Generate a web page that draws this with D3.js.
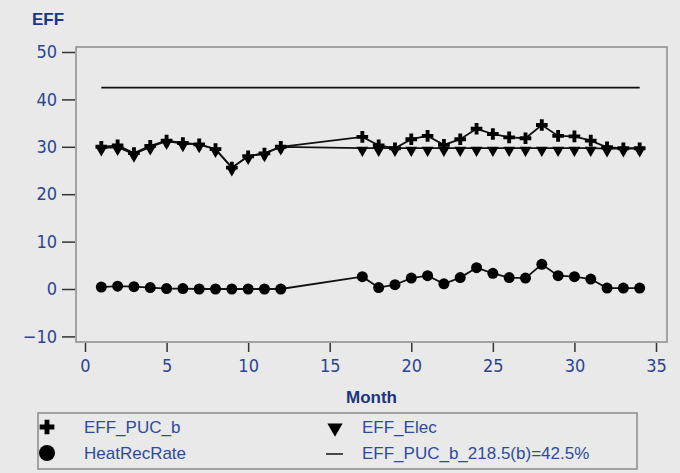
<!DOCTYPE html>
<html><head><meta charset="utf-8">
<script src="https://cdn.jsdelivr.net/npm/d3@7"></script>
<style>
html,body{margin:0;padding:0;background:#e9e9e9;}
svg{display:block;}
</style></head>
<body>
<script>
const months = [1,2,3,4,5,6,7,8,9,10,11,12,17,18,19,20,21,22,23,24,25,26,27,28,29,30,31,32,33,34];
const effPucB = [30.0,30.3,28.7,30.2,31.3,30.8,30.5,29.5,25.6,28.0,28.6,30.0,
                 32.1,30.3,29.7,31.6,32.3,30.4,31.6,33.8,32.7,32.0,31.8,34.6,32.3,32.2,31.3,29.9,29.7,29.7];
const effElec = [29.8,29.9,28.5,30.0,31.2,30.7,30.5,29.5,25.6,28.0,28.6,30.0,
                 29.7,29.7,29.7,29.7,29.7,29.7,29.7,29.7,29.7,29.7,29.7,29.7,29.7,29.7,29.7,29.6,29.6,29.6];
const heatRecRate = [0.4,0.6,0.5,0.3,0.1,0.1,0.0,0.0,0.0,0.0,0.0,0.0,
                     2.6,0.3,0.9,2.3,2.8,1.1,2.4,4.5,3.3,2.4,2.3,5.2,2.8,2.6,2.1,0.2,0.2,0.2];
const refLineValue = 42.5;
const refLineMonths = [1,34];
const xTicks = [0,5,10,15,20,25,30,35];
const yTicks = [-10,0,10,20,30,40,50];
const legendLabels = ["EFF_PUC_b","EFF_Elec","HeatRecRate","EFF_PUC_b_218.5(b)=42.5%"];

const W = 680, H = 473;
const frame = {left:76, right:667, top:47, bottom:342};
const svg = d3.select("body").append("svg").attr("width",W).attr("height",H);
svg.append("rect").attr("width",W).attr("height",H).attr("fill","#e9e9e9");

const x = d3.scaleLinear().domain([0,35]).range([85,656]);
const y = d3.scaleLinear().domain([0,50]).range([289,52]);

const navy = "#1c3580";
const tickBlue = "#2b4591";
const tickFont = "'Liberation Sans Narrow','DejaVu Sans Condensed',sans-serif";

// frame
svg.append("rect").attr("x",frame.left).attr("y",frame.top)
  .attr("width",frame.right-frame.left).attr("height",frame.bottom-frame.top)
  .attr("fill","#e9e9e9").attr("stroke","#8a8a8a").attr("stroke-width",1.5);

// y axis
const yAxis = d3.axisLeft(y).tickValues(yTicks).tickSize(13).tickPadding(5);
const gy = svg.append("g").attr("transform",`translate(${frame.left-1},0)`).call(yAxis);
gy.select(".domain").remove();
gy.selectAll(".tick line").attr("stroke","#333").attr("stroke-width",1.5);
gy.selectAll(".tick text").attr("fill",tickBlue).style("font-family",tickFont).style("font-size","18px");

// x axis
const xAxis = d3.axisBottom(x).tickValues(xTicks).tickSize(9).tickPadding(7);
const gx = svg.append("g").attr("transform",`translate(0,${frame.bottom+1})`).call(xAxis);
gx.select(".domain").remove();
gx.selectAll(".tick line").attr("stroke","#333").attr("stroke-width",1.5);
gx.selectAll(".tick text").attr("fill",tickBlue).style("font-family",tickFont).style("font-size","18px");

// titles
svg.append("text").attr("x",32).attr("y",25).text("EFF")
  .attr("fill",navy).style("font-family","Liberation Sans, Arial, sans-serif").style("font-weight","bold").style("font-size","17px");
svg.append("text").attr("x",(frame.left+frame.right)/2).attr("y",403).attr("text-anchor","middle").text("Month")
  .attr("fill",navy).style("font-family","Liberation Sans, Arial, sans-serif").style("font-weight","bold").style("font-size","17px");

// data
const line = d3.line().x(d=>x(d[0])).y(d=>y(d[1]));
const pucData = months.map((m,i)=>[m,effPucB[i]]);
const elecData = months.map((m,i)=>[m,effElec[i]]);
const heatData = months.map((m,i)=>[m,heatRecRate[i]]);

svg.append("path").datum(refLineMonths.map(m=>[m,refLineValue])).attr("d",line)
  .attr("fill","none").attr("stroke","#111").attr("stroke-width",1.8);
[pucData, elecData, heatData].forEach(dat=>{
  svg.append("path").datum(dat).attr("d",line).attr("fill","none").attr("stroke","#111").attr("stroke-width",1.8);
});

const cross = d3.symbol().type(d3.symbolCross).size(75);
const tri = d3.symbol().type(d3.symbolTriangle).size(60);
svg.append("g").selectAll("path").data(pucData).join("path")
  .attr("d",cross).attr("transform",d=>`translate(${x(d[0])},${y(d[1])})`).attr("fill","#000");
svg.append("g").selectAll("path").data(elecData).join("path")
  .attr("d",tri).attr("transform",d=>`translate(${x(d[0])},${y(d[1])+2}) rotate(180)`).attr("fill","#000");
svg.append("g").selectAll("circle").data(heatData).join("circle")
  .attr("cx",d=>x(d[0])).attr("cy",d=>y(d[1])).attr("r",5.5).attr("fill","#000");

// legend
const lg = svg.append("g");
lg.append("rect").attr("x",38).attr("y",413).attr("width",599).attr("height",56)
  .attr("fill","#e9e9e9").attr("stroke","#8a8a8a").attr("stroke-width",1.5);
const ltxt = (tx,ty,s)=>lg.append("text").attr("x",tx).attr("y",ty).text(s)
  .attr("fill","#2d4b9c").style("font-family","Liberation Sans, Arial, sans-serif").style("font-size","17px");
lg.append("path").attr("d",d3.symbol().type(d3.symbolCross).size(120)()).attr("transform","translate(47,427)").attr("fill","#000");
ltxt(84,433,legendLabels[0]);
lg.append("path").attr("d",d3.symbol().type(d3.symbolTriangle).size(100)()).attr("transform","translate(335,428) rotate(180)").attr("fill","#000");
ltxt(362,433,legendLabels[1]);
lg.append("circle").attr("cx",47).attr("cy",453).attr("r",8).attr("fill","#000");
ltxt(84,459,legendLabels[2]);
lg.append("line").attr("x1",326).attr("x2",343).attr("y1",454).attr("y2",454).attr("stroke","#111").attr("stroke-width",1.5);
ltxt(362,459,legendLabels[3]);
</script>
</body></html>
